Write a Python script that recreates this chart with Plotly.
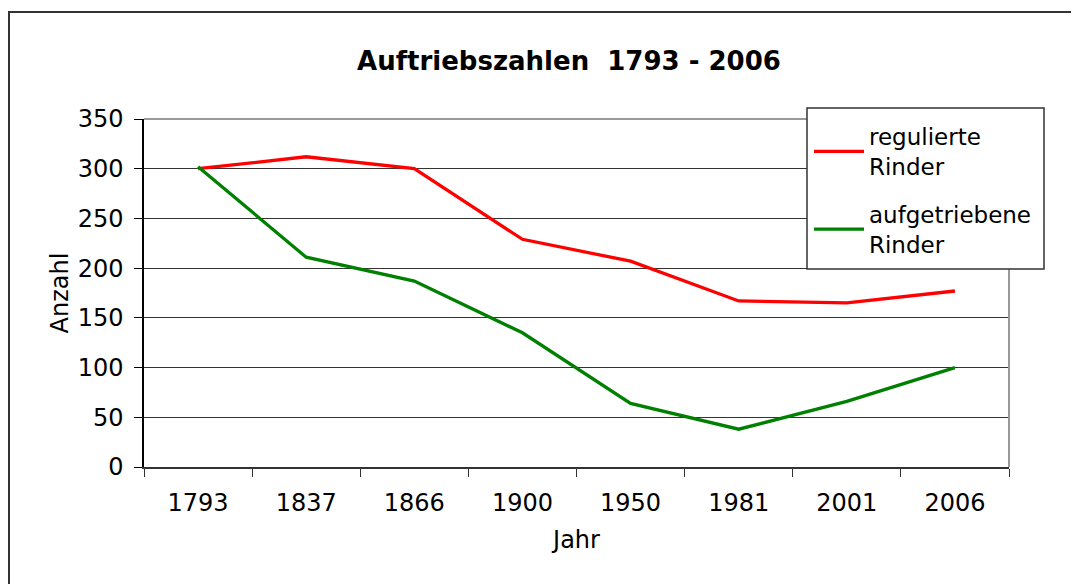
import plotly.graph_objects as go

jahre = ["1793", "1837", "1866", "1900", "1950", "1981", "2001", "2006"]
regulierte = [300, 312, 300, 229, 207, 167, 165, 177]
aufgetriebene = [302, 211, 187, 135, 64, 38, 66, 100]
y_ticks = [0, 50, 100, 150, 200, 250, 300, 350]

FONT = "DejaVu Sans"

fig = go.Figure()
fig.add_trace(go.Scatter(x=jahre, y=regulierte, mode="lines", name="regulierte<br>Rinder",
                         line=dict(color="#FF0000", width=3.3), legendgroup="a"))
fig.add_trace(go.Scatter(x=jahre, y=aufgetriebene, mode="lines", name="aufgetriebene<br>Rinder",
                         line=dict(color="#008000", width=3.3), legendgroup="b"))

# page body has an 8px margin; positions below are in figure coordinates
OFF = 8
W, H = 1079, 584
L, R, T, B = 144 - OFF, 1009 - OFF, 119 - OFF, 467 - OFF


def px_x(x):
    return (x - OFF - L) / (R - L)


def px_y(y):
    return (B - (y - OFF)) / (B - T)


fig.update_layout(
    width=W, height=H,
    margin=dict(l=L, r=W - R, t=T, b=H - B, autoexpand=False),
    paper_bgcolor="white", plot_bgcolor="white",
    font=dict(family=FONT, size=24, color="black"),
    title=dict(text="<b>Auftriebszahlen  1793 - 2006</b>", x=(569 - OFF) / W, xanchor="center",
               y=1 - (61 - OFF) / H, yanchor="middle", font=dict(family=FONT, size=26, color="black")),
    showlegend=True,
    legend=dict(x=px_x(809), xanchor="left", y=px_y(115), yanchor="top",
                bgcolor="rgba(0,0,0,0)", borderwidth=0,
                font=dict(family=FONT, size=23, color="black"),
                tracegroupgap=15, itemwidth=50),
    xaxis=dict(
        type="category", range=[-0.5, 7.5],
        showgrid=False, showline=True, linecolor="#333333", linewidth=1.5,
        ticks="outside", tickson="boundaries", ticklen=8, tickcolor="#333333", tickwidth=1,
        ticklabelstandoff=13,
        title=dict(text="Jahr", standoff=16, font=dict(family=FONT, size=24)),
        zeroline=False, fixedrange=True,
    ),
    yaxis=dict(
        range=[0, 350], tickvals=y_ticks,
        showgrid=True, gridcolor="#333333", gridwidth=1,
        showline=True, linecolor="black", linewidth=1.5,
        ticks="outside", ticklen=8, tickcolor="black", tickwidth=1,
        ticklabelstandoff=6,
        title=dict(text="Anzahl", standoff=2, font=dict(family=FONT, size=24)),
        zeroline=False, fixedrange=True,
    ),
)

# top and right plot-area border (grey)
fig.add_shape(type="line", xref="x domain", yref="y domain", x0=0, x1=1, y0=1, y1=1,
              line=dict(color="#999999", width=2), layer="above")
fig.add_shape(type="line", xref="x domain", yref="y domain", x0=1, x1=1, y0=0, y1=1,
              line=dict(color="#999999", width=2), layer="above")
# legend box
fig.add_shape(type="rect", xref="paper", yref="paper",
              x0=px_x(807), x1=px_x(1044), y0=px_y(269), y1=px_y(108),
              line=dict(color="#333333", width=1.5), fillcolor="white", layer="above")
# outer chart border
fig.add_shape(type="rect", xref="paper", yref="paper",
              x0=px_x(9), x1=2, y0=-2, y1=px_y(12),
              line=dict(color="#333333", width=2), fillcolor="rgba(0,0,0,0)", layer="above")

fig.write_html("out.html")
